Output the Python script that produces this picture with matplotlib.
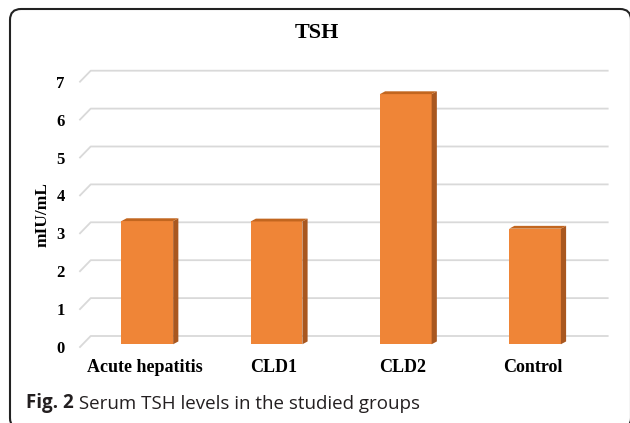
import matplotlib
matplotlib.use("Agg")
import matplotlib.pyplot as plt
from matplotlib.patches import Polygon, FancyBboxPatch
from matplotlib.transforms import IdentityTransform
import numpy as np

# Datos
grupos = ["Acute hepatitis", "CLD1", "CLD2", "Control"]
tsh = [3.25, 3.24, 6.6, 3.05]
ticks_y = [0, 1, 2, 3, 4, 5, 6, 7]

titulo = "TSH"
etiqueta_y = "mIU/mL"
pie_negrita = "Fig. 2"
pie_texto = " Serum TSH levels in the studied groups"

naranja = "#EF8537"
naranja_lado = "#A9571F"
naranja_arriba = "#C2661F"
gris_rejilla = "#D9D9D9"
serif = "Liberation Serif"

W, H = 630, 423
fig = plt.figure(figsize=(W / 100, H / 100), dpi=100)
ax = fig.add_axes([80 / W, 1 - 347 / H, 517 / W, 265.3 / H])
x = np.arange(len(grupos))
ax.set_xlim(-0.5, len(grupos) - 0.5)
ax.set_ylim(0, 7)

# profundidad (pixeles) -> unidades de datos
inv = ax.transData.inverted()
p0 = inv.transform((0, 0))
g = inv.transform((10.7, 11)) - p0      # fondo de la rejilla
b = inv.transform((5.2, 2.8)) - p0      # profundidad de la barra
off = 0.25 * g

# rejilla en perspectiva
x0, x1 = ax.get_xlim()
for v in ticks_y:
    ax.plot([x0, x0 + g[0], x1 + g[0]], [v, v + g[1], v + g[1]],
            color=gris_rejilla, lw=1.3, clip_on=False, zorder=1)

ancho = 0.4
ax.bar(x + off[0], tsh, width=ancho, bottom=off[1], color=naranja, zorder=3)
for xi, v in zip(x + off[0], tsh):
    xl, xr = xi - ancho / 2, xi + ancho / 2
    y0, y1 = off[1], off[1] + v
    lado = [(xr, y0), (xr + b[0], y0 + b[1]), (xr + b[0], y1 + b[1]), (xr, y1)]
    tapa = [(xl, y1), (xl + b[0], y1 + b[1]), (xr + b[0], y1 + b[1]), (xr, y1)]
    ax.add_patch(Polygon(lado, closed=True, color=naranja_lado, lw=0, zorder=3, clip_on=False))
    ax.add_patch(Polygon(tapa, closed=True, color=naranja_arriba, lw=0, zorder=3, clip_on=False))

for s in ax.spines.values():
    s.set_visible(False)
ax.set_xticks(x)
ax.set_xticklabels(grupos, fontfamily=serif, fontweight="bold", fontsize=13)
ax.set_yticks(ticks_y)
ax.set_yticklabels([str(t) for t in ticks_y], fontfamily=serif, fontweight="bold", fontsize=12)
ax.tick_params(axis="x", length=0, pad=9)
ax.tick_params(axis="y", length=0, pad=11)
ax.set_ylabel(etiqueta_y, fontfamily=serif, fontweight="bold", fontsize=12.5, labelpad=4)

fig.text(317 / W, 1 - 33 / H, titulo, ha="center", va="center",
         fontfamily=serif, fontweight="bold", fontsize=16)

# marco redondeado: solo se ven el lado izquierdo, el superior y la esquina derecha
marco = FancyBboxPatch((10, -6), 621, H - 9 + 6,
                       boxstyle="round,pad=0,rounding_size=11",
                       transform=IdentityTransform(), fill=False,
                       edgecolor="#222222", lw=1.5, clip_on=False)
fig.patches.append(marco)

t1 = fig.text(26 / W, 1 - 413 / H, pie_negrita, ha="left", va="bottom",
              fontfamily="Open Sans", fontweight="bold", fontsize=13.5, color="#231F20")
ax.annotate(pie_texto, xy=(1, 0), xycoords=t1, ha="left", va="bottom",
            fontfamily="Open Sans", fontsize=13.5, color="#231F20", annotation_clip=False)

fig.savefig("out.png", dpi=100)
